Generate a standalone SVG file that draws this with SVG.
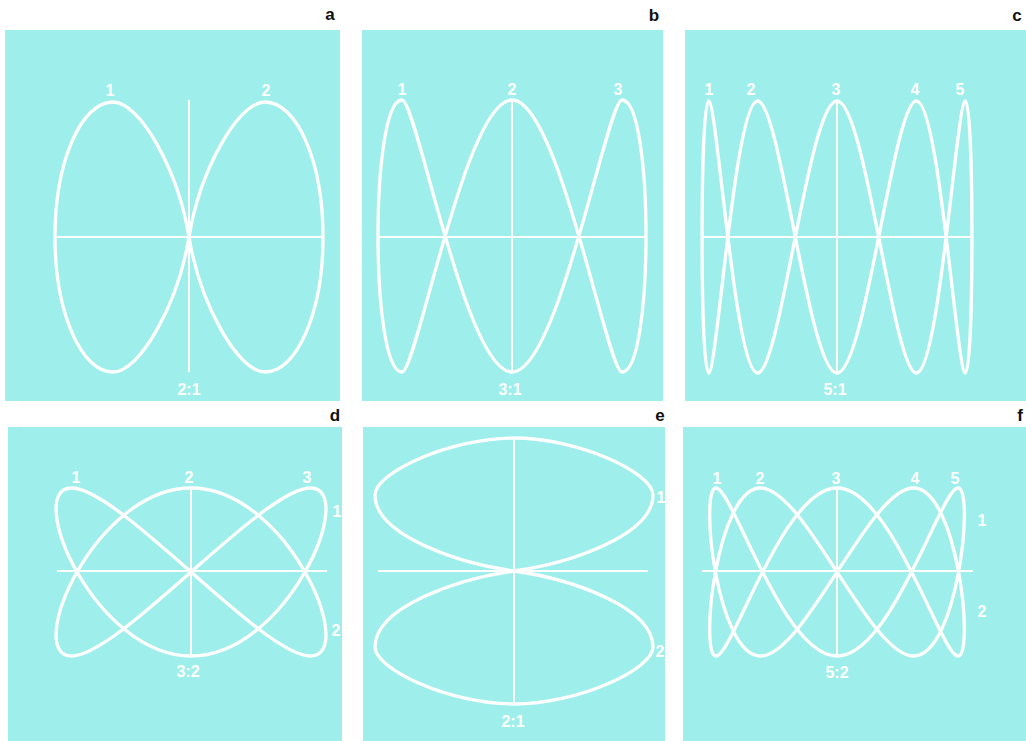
<svg xmlns="http://www.w3.org/2000/svg" width="1026" height="741" viewBox="0 0 1026 741">
  <style>
    .bg { fill: #9eefeb; }
    .curve { fill: none; stroke: #ffffff; stroke-width: 3.3; stroke-linejoin: round; stroke-linecap: round; }
    .axis { stroke: #ffffff; stroke-width: 2; fill: none; }
    .num { font-family: "Liberation Sans", Arial, sans-serif; font-size: 16px; font-weight: bold; fill: #ffffff; text-anchor: middle; }
    .tag { font-family: "Liberation Sans", Arial, sans-serif; font-size: 17px; font-weight: bold; fill: #111111; text-anchor: middle; }
  </style>
  <rect x="0" y="0" width="1026" height="741" fill="#ffffff"/>

  <g id="panel-a">
    <rect class="bg" x="5" y="30" width="335" height="371"/>
    <line class="axis" x1="55" y1="237" x2="323" y2="237"/>
    <line class="axis" x1="189" y1="100" x2="189" y2="372"/>
    <path class="curve" d="M189,237 C200,170 238,102 265,102 C297,102 323,162 323,237 C323,312 297,372 265,372 C238,372 200,304 189,237 C178,170 140,102 113,102 C81,102 55,162 55,237 C55,312 81,372 113,372 C140,372 178,304 189,237 Z"/>
    <text class="num" x="110" y="96">1</text>
    <text class="num" x="266" y="96">2</text>
    <text class="num" x="189" y="395">2:1</text>
    <text class="tag" x="330" y="20">a</text>
  </g>

  <g id="panel-b">
    <rect class="bg" x="362" y="30" width="301" height="371"/>
    <line class="axis" x1="378" y1="237" x2="645" y2="237"/>
    <line class="axis" x1="512" y1="100" x2="512" y2="372"/>
    <path class="curve" d="M512,100 C558.8,100 607.2,372 622,372 C654,372 654,100 622,100 C607.2,100 558.8,372 512,372 C465.2,372 416.8,100 402,100 C370,100 370,372 402,372 C416.8,372 465.2,100 512,100 Z"/>
    <text class="num" x="402" y="95">1</text>
    <text class="num" x="512" y="95">2</text>
    <text class="num" x="618" y="95">3</text>
    <text class="num" x="510" y="395">3:1</text>
    <text class="tag" x="654" y="21">b</text>
  </g>

  <g id="panel-c">
    <rect class="bg" x="685" y="30" width="341" height="371"/>
    <line class="axis" x1="702" y1="237" x2="973" y2="237"/>
    <line class="axis" x1="837" y1="100" x2="837" y2="373"/>
    <path class="curve" d="M837,101 C865.3,101 893.5,373 916.4,373 C939.2,373 956.7,101 965.4,101 C974.1,101 974.1,373 965.4,373 C956.7,373 939.2,101 916.4,101 C893.5,101 865.3,373 837,373 C808.7,373 780.5,101 757.6,101 C734.8,101 717.3,373 708.6,373 C699.9,373 699.9,101 708.6,101 C717.3,101 734.8,373 757.6,373 C780.5,373 808.7,101 837,101 Z"/>
    <text class="num" x="709" y="95">1</text>
    <text class="num" x="751" y="95">2</text>
    <text class="num" x="836" y="95">3</text>
    <text class="num" x="915" y="95">4</text>
    <text class="num" x="960" y="95">5</text>
    <text class="num" x="835" y="395">5:1</text>
    <text class="tag" x="1017" y="21">c</text>
  </g>

  <g id="panel-d">
    <rect class="bg" x="8" y="427" width="334" height="314"/>
    <line class="axis" x1="57" y1="571" x2="327" y2="571"/>
    <line class="axis" x1="191" y1="489" x2="191" y2="657"/>
    <path class="curve" d="M191,488 C287.3,488 358.7,656 310.5,656 C262.3,656 119.7,488 71.5,488 C23.3,488 94.7,656 191,656 C287.3,656 358.7,488 310.5,488 C262.3,488 119.7,656 71.5,656 C23.3,656 94.7,488 191,488 Z"/>
    <text class="num" x="76" y="483">1</text>
    <text class="num" x="189" y="483">2</text>
    <text class="num" x="307" y="483">3</text>
    <text class="num" x="337" y="517">1</text>
    <text class="num" x="336" y="636">2</text>
    <text class="num" x="188" y="677">3:2</text>
    <text class="tag" x="335" y="421">d</text>
  </g>

  <g id="panel-e">
    <rect class="bg" x="363" y="427" width="302" height="314"/>
    <line class="axis" x1="378" y1="571" x2="648" y2="571"/>
    <line class="axis" x1="514" y1="438" x2="514" y2="704"/>
    <path class="curve" d="M514,571 C571,563 653,535 653,495 C653,473 579,438 514,438 C449,438 375,473 375,495 C375,535 457,563 514,571 C571,579 653,607 653,647 C653,669 579,704 514,704 C449,704 375,669 375,647 C375,607 457,579 514,571 Z"/>
    <text class="num" x="661" y="503">1</text>
    <text class="num" x="660" y="657">2</text>
    <text class="num" x="513" y="727">2:1</text>
    <text class="tag" x="660" y="421">e</text>
  </g>

  <g id="panel-f">
    <rect class="bg" x="683" y="427" width="343" height="314"/>
    <line class="axis" x1="702" y1="571" x2="973" y2="571"/>
    <line class="axis" x1="837" y1="489" x2="837" y2="657"/>
    <path class="curve" d="M837,488 C891.5,488 941.2,656 958,656 C974.8,656 957.6,488 913.5,488 C869.5,488 804.6,656 760.5,656 C716.5,656 699.2,488 716,488 C732.8,488 782.6,656 837,656 C891.5,656 941.2,488 958,488 C974.8,488 957.6,656 913.5,656 C869.5,656 804.6,488 760.5,488 C716.5,488 699.2,656 716,656 C732.8,656 782.6,488 837,488 Z"/>
    <text class="num" x="717" y="484">1</text>
    <text class="num" x="760" y="484">2</text>
    <text class="num" x="836" y="484">3</text>
    <text class="num" x="915" y="484">4</text>
    <text class="num" x="955" y="484">5</text>
    <text class="num" x="982" y="526">1</text>
    <text class="num" x="982" y="617">2</text>
    <text class="num" x="837" y="678">5:2</text>
    <text class="tag" x="1020" y="421">f</text>
  </g>
</svg>
